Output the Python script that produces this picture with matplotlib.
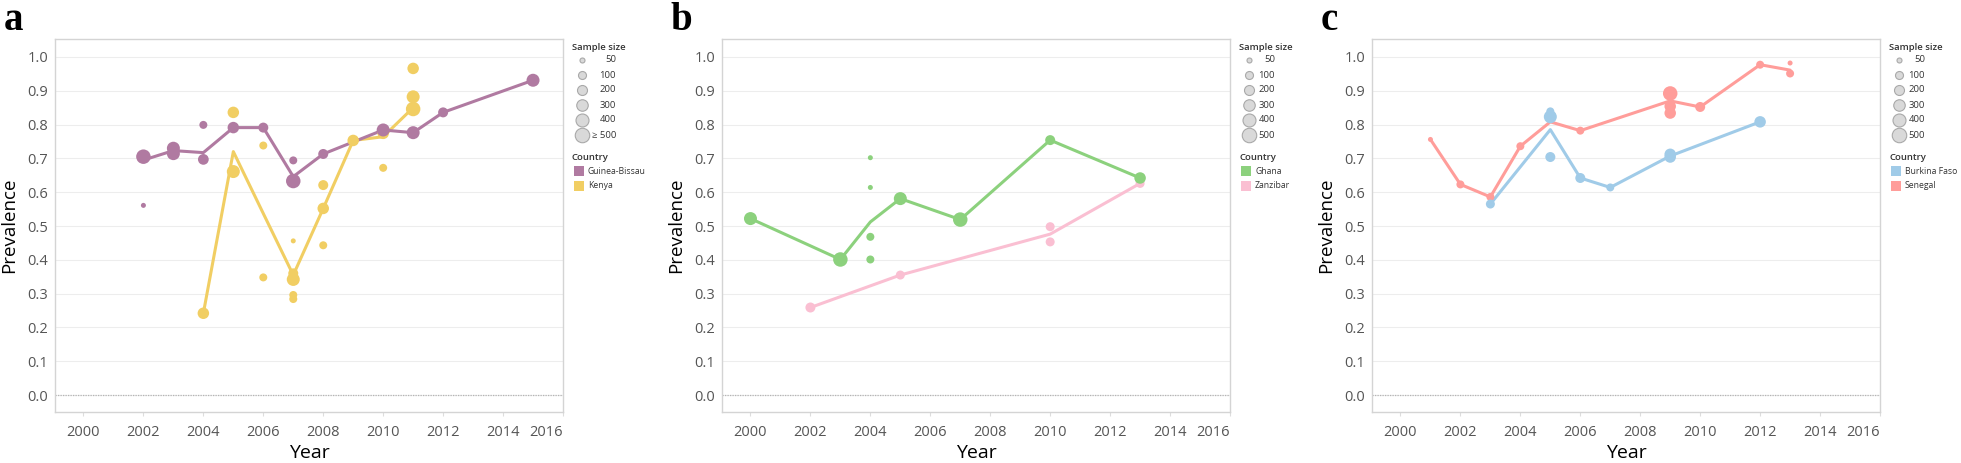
import numpy as np
import matplotlib
matplotlib.use("Agg")
import matplotlib.pyplot as plt

plt.rcParams['font.family'] = ['Open Sans', 'DejaVu Sans']

W, H = 1961, 463

# ---- panel a : Guinea-Bissau / Kenya ----
gb_pt_year = [2002, 2002, 2003, 2003, 2004, 2004, 2005, 2006, 2007, 2007, 2008, 2010, 2011, 2012, 2015]
gb_pt_val  = [0.705, 0.561, 0.730, 0.714, 0.799, 0.697, 0.791, 0.791, 0.694, 0.633, 0.713, 0.784, 0.776, 0.836, 0.931]
gb_pt_n    = [500, 50, 400, 400, 100, 250, 300, 200, 100, 500, 200, 400, 400, 200, 400]
gb_ln_year = [2002, 2003, 2004, 2005, 2006, 2007, 2008, 2010, 2011, 2012, 2015]
gb_ln_val  = [0.695, 0.723, 0.717, 0.791, 0.791, 0.646, 0.713, 0.784, 0.776, 0.836, 0.931]

ke_pt_year = [2004, 2005, 2005, 2006, 2006, 2007, 2007, 2007, 2007, 2007, 2008, 2008, 2008, 2009, 2010, 2010, 2011, 2011, 2011]
ke_pt_val  = [0.242, 0.836, 0.661, 0.738, 0.348, 0.456, 0.360, 0.342, 0.296, 0.284, 0.621, 0.552, 0.443, 0.753, 0.774, 0.672, 0.966, 0.882, 0.846]
ke_pt_n    = [300, 300, 400, 100, 100, 50, 200, 400, 100, 100, 200, 300, 100, 300, 300, 100, 300, 400, 500]
ke_ln_year = [2004, 2005, 2006, 2007, 2008, 2009, 2010, 2011]
ke_ln_val  = [0.242, 0.720, 0.537, 0.355, 0.552, 0.753, 0.764, 0.850]

# ---- panel b : Ghana / Zanzibar ----
gh_pt_year = [2000, 2003, 2004, 2004, 2004, 2004, 2005, 2007, 2010, 2013]
gh_pt_val  = [0.522, 0.401, 0.702, 0.614, 0.468, 0.401, 0.581, 0.519, 0.754, 0.642]
gh_pt_n    = [400, 500, 50, 50, 100, 100, 400, 500, 200, 300]
gh_ln_year = [2000, 2003, 2004, 2005, 2007, 2010, 2013]
gh_ln_val  = [0.522, 0.401, 0.512, 0.581, 0.519, 0.754, 0.642]

za_pt_year = [2002, 2005, 2010, 2010, 2013]
za_pt_val  = [0.259, 0.355, 0.498, 0.453, 0.626]
za_pt_n    = [200, 150, 150, 150, 150]
za_ln_year = [2002, 2005, 2010, 2013]
za_ln_val  = [0.259, 0.355, 0.476, 0.626]

# ---- panel c : Burkina Faso / Senegal ----
bf_pt_year = [2003, 2005, 2005, 2005, 2006, 2007, 2009, 2009, 2012]
bf_pt_val  = [0.565, 0.839, 0.823, 0.704, 0.642, 0.614, 0.712, 0.704, 0.808]
bf_pt_n    = [150, 100, 400, 200, 200, 100, 300, 300, 300]
bf_ln_year = [2003, 2005, 2006, 2007, 2009, 2012]
bf_ln_val  = [0.565, 0.785, 0.642, 0.614, 0.707, 0.808]

se_pt_year = [2001, 2002, 2003, 2004, 2006, 2009, 2009, 2009, 2010, 2012, 2013, 2013]
se_pt_val  = [0.756, 0.623, 0.586, 0.736, 0.782, 0.892, 0.854, 0.834, 0.852, 0.977, 0.982, 0.951]
se_pt_n    = [50, 100, 100, 100, 100, 500, 300, 300, 200, 100, 50, 100]
se_ln_year = [2001, 2002, 2003, 2004, 2005, 2006, 2009, 2010, 2012, 2013]
se_ln_val  = [0.756, 0.623, 0.586, 0.736, 0.808, 0.782, 0.870, 0.852, 0.977, 0.961]

# size legend
size_levels = [50, 100, 200, 300, 400, 500]
size_diam_px = [5, 8, 10, 11.5, 13, 14.5]


def area(n):
    d = np.interp(n, size_levels, size_diam_px) * 0.72
    return d ** 2


panels = [
    dict(letter='a', left=55, right=563, lbl_right=53, top_label='≥ 500',
         series=[('Kenya', '#f1ce63', ke_pt_year, ke_pt_val, ke_pt_n, ke_ln_year, ke_ln_val),
                 ('Guinea-Bissau', '#b07aa1', gb_pt_year, gb_pt_val, gb_pt_n, gb_ln_year, gb_ln_val)],
         legend=[('Guinea-Bissau', '#b07aa1'), ('Kenya', '#f1ce63')]),
    dict(letter='b', left=722, right=1230, lbl_right=45, top_label='500',
         series=[('Zanzibar', '#fabfd2', za_pt_year, za_pt_val, za_pt_n, za_ln_year, za_ln_val),
                 ('Ghana', '#8cd17d', gh_pt_year, gh_pt_val, gh_pt_n, gh_ln_year, gh_ln_val)],
         legend=[('Ghana', '#8cd17d'), ('Zanzibar', '#fabfd2')]),
    dict(letter='c', left=1372, right=1880, lbl_right=45, top_label='500',
         series=[('Senegal', '#ff9d9a', se_pt_year, se_pt_val, se_pt_n, se_ln_year, se_ln_val),
                 ('Burkina Faso', '#a0cbe8', bf_pt_year, bf_pt_val, bf_pt_n, bf_ln_year, bf_ln_val)],
         legend=[('Burkina Faso', '#a0cbe8'), ('Senegal', '#ff9d9a')]),
]

fig = plt.figure(figsize=(W / 100, H / 100), dpi=100)
ov = fig.add_axes([0, 0, 1, 1], zorder=10)
ov.set_xlim(0, W)
ov.set_ylim(H, 0)
ov.axis('off')
ov.patch.set_alpha(0)

top, bottom = 39, 412
for p in panels:
    ax = fig.add_axes([p['left'] / W, (H - bottom) / H, (p['right'] - p['left']) / W, (bottom - top) / H])
    ax.set_xlim(1999.05, 2016)
    ax.set_ylim(-0.05, 1.053)
    for s in ax.spines.values():
        s.set_color('#d4d4d4')
        s.set_linewidth(1)
    yt = np.round(np.arange(0, 1.01, 0.1), 1)
    ax.set_yticks(yt, labels=[f'{v:.1f}' for v in yt])
    ax.yaxis.grid(True, color='#ededed', lw=0.8)
    ax.set_axisbelow(True)
    ax.axhline(0, color='#b5b5b5', ls=(0, (1, 1)), lw=0.9, zorder=1)
    xt = list(range(2000, 2017, 2))
    ax.set_xticks(xt, labels=[str(t) for t in xt])
    ax.get_xticklabels()[-1].set_horizontalalignment('right')
    ax.tick_params(axis='y', length=0, pad=5, labelsize=10.5, labelcolor='#555555')
    ax.tick_params(axis='x', length=3, color='#dddddd', pad=6, labelsize=10.5, labelcolor='#555555')
    ax.set_ylabel('Prevalence', fontsize=13.5, color='black')
    ax.yaxis.label.set_va('center')
    ax.yaxis.set_label_coords(-46 / 508, 0.5)
    ax.set_xlabel('Year', fontsize=14, color='black')
    ax.xaxis.set_label_coords(0.5, -0.11)
    ax.xaxis.label.set_va('center')

    for name, col, py, pv, pn, ly, lv in p['series']:
        ax.plot(ly, lv, color=col, lw=2.2, zorder=2, solid_capstyle='round')
    for name, col, py, pv, pn, ly, lv in p['series']:
        ax.scatter(py, pv, s=area(pn), color=col, linewidths=0, zorder=3)

    # panel letter
    ov.text(p['left'] - 51 if p['letter'] != 'b' else p['left'] - 52, 30, p['letter'],
            family='Liberation Serif', weight='bold', fontsize=28, va='baseline', ha='left')

    # legends
    r = p['right']
    ov.text(r + 9, 48, 'Sample size', fontsize=6.8, weight='semibold', color='#333333', va='center', ha='left')
    labels = [str(v) for v in size_levels[:-1]] + [p['top_label']]
    for i, (lv, lab) in enumerate(zip(size_levels, labels)):
        yy = 60 + 15 * i
        ov.scatter([r + 19], [yy], s=area(lv), color='#d9d9d9', edgecolors='#a9a9a9', linewidths=0.8)
        ov.text(r + p['lbl_right'], yy, lab, fontsize=6.8, color='#333333', va='center', ha='right')
    ov.text(r + 9, 158, 'Country', fontsize=6.8, weight='semibold', color='#333333', va='center', ha='left')
    for i, (name, col) in enumerate(p['legend']):
        yy = 171 + 15 * i
        ov.add_patch(plt.Rectangle((r + 11, yy - 5), 10, 10, color=col, lw=0))
        ov.text(r + 25, yy, name, fontsize=6.2, color='#333333', va='center', ha='left')

fig.savefig('out.png', dpi=100)
